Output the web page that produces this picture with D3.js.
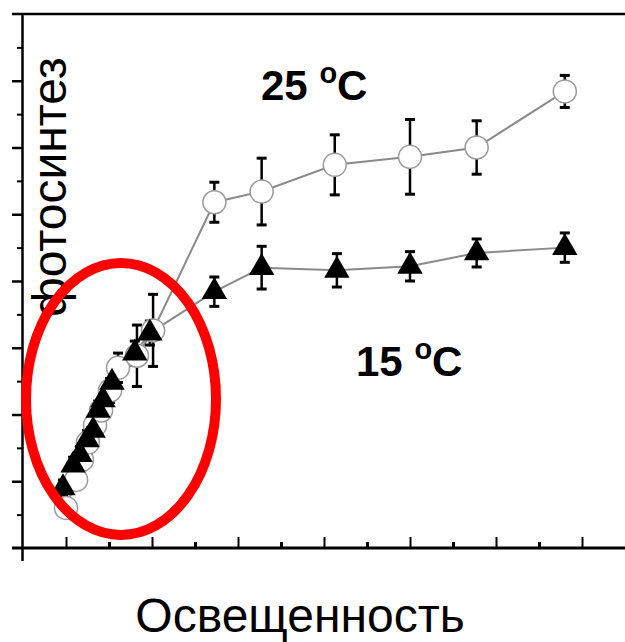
<!DOCTYPE html>
<html>
<head>
<meta charset="utf-8">
<script src="https://cdn.jsdelivr.net/npm/d3@7"></script>
<style>
  body { margin: 0; background: #fff; }
  svg { display: block; }
</style>
</head>
<body>
<svg id="chart"></svg>
<script>
// 25 oC series (open circles)
const light25 = [200, 247, 274, 302, 335, 363, 405, 442, 530, 605, 890, 1110, 1450, 1800, 2110, 2520]
const photo25 = [3.0, 5.1, 6.6, 7.9, 9.2, 10.3, 11.8, 13.5, 14.4, 16.3, 25.9, 26.7, 28.7, 29.3, 30.0, 34.2]
const err25 = [0.6, 0.7, 0.7, 0.8, 0.8, 0.8, 0.9, 1.1, 2.3, 2.7, 1.5, 2.5, 2.25, 2.8, 2.0, 1.2]

// 15 oC series (filled triangles)
const light15 = [186, 233, 265, 298, 326, 349, 372, 414, 520, 590, 890, 1110, 1460, 1800, 2110, 2520]
const photo15 = [4.5, 6.2, 7.0, 8.1, 8.8, 10.3, 11.1, 12.4, 14.6, 16.1, 19.2, 21.0, 20.8, 21.1, 22.1, 22.5]
const err15 = [0.6, 0.6, 0.6, 0.7, 0.7, 0.7, 0.8, 0.8, 0.9, 0.9, 1.1, 1.6, 1.25, 1.1, 1.05, 1.1]

const xMajorTicks = [200, 600, 1000, 1400, 1800, 2200, 2600]
const xMinorTicks = [400, 800, 1200, 1600, 2000, 2400]
const yMajorTicks = [5, 10, 15, 20, 25, 30, 35]
const yMinorTicks = [2.5, 7.5, 12.5, 17.5, 22.5, 27.5, 32.5, 37.5]

const SVG_WIDTH = 625
const SVG_HEIGHT = 642
const LEFT = 23
const TOP = 14
const BOTTOM = 548

const svg = d3.select('#chart')
  .attr('width', SVG_WIDTH)
  .attr('height', SVG_HEIGHT)

const xScale = d3.scaleLinear().domain([0, 2800]).range([LEFT, SVG_WIDTH])
const yScale = d3.scaleLinear().domain([0, 40]).range([BOTTOM, TOP])

function drawFrame() {
  // top line, left axis, bottom axis
  svg.append('line')
    .attr('x1', 12).attr('x2', SVG_WIDTH)
    .attr('y1', yScale(40)).attr('y2', yScale(40))
    .attr('stroke', '#000').attr('stroke-width', 2.5)

  svg.append('line')
    .attr('x1', LEFT - 0.5).attr('x2', LEFT - 0.5)
    .attr('y1', yScale(40) - 1).attr('y2', 561)
    .attr('stroke', '#000').attr('stroke-width', 2.5)

  svg.append('line')
    .attr('x1', 12).attr('x2', SVG_WIDTH)
    .attr('y1', BOTTOM).attr('y2', BOTTOM)
    .attr('stroke', '#000').attr('stroke-width', 3)
}

function drawAxes() {
  const addAxis = (axis, transform, width) => {
    const g = svg.append('g')
      .attr('transform', transform)
      .call(axis)
    g.select('.domain').remove()
    g.selectAll('.tick line').attr('stroke', '#000').attr('stroke-width', width)
  }

  addAxis(d3.axisTop(xScale).tickValues(xMajorTicks).tickSize(11).tickFormat(''),
    `translate(0, ${BOTTOM})`, 2)
  addAxis(d3.axisTop(xScale).tickValues(xMinorTicks).tickSize(6).tickFormat(''),
    `translate(0, ${BOTTOM})`, 3)
  addAxis(d3.axisLeft(yScale).tickValues(yMajorTicks).tickSize(11).tickFormat(''),
    `translate(${LEFT}, 0)`, 2.5)
  addAxis(d3.axisLeft(yScale).tickValues(yMinorTicks).tickSize(6).tickFormat(''),
    `translate(${LEFT}, 0)`, 2)
}

function drawSeries(xs, ys, errs) {
  const pts = xs.map((x, i) => ({x, y: ys[i], e: errs[i]}))

  const line = d3.line().x(d => xScale(d.x)).y(d => yScale(d.y))
  svg.append('path')
    .datum(pts)
    .attr('d', line)
    .attr('fill', 'none')
    .attr('stroke', '#8a8a8a')
    .attr('stroke-width', 2)

  const bars = svg.append('g').selectAll('g')
    .data(pts)
    .enter()
    .append('g')
    .attr('stroke', '#000')

  bars.append('line')
    .attr('x1', d => xScale(d.x)).attr('x2', d => xScale(d.x))
    .attr('y1', d => yScale(d.y - d.e)).attr('y2', d => yScale(d.y + d.e))
    .attr('stroke-width', 2.5)
  bars.append('line')
    .attr('x1', d => xScale(d.x) - 5).attr('x2', d => xScale(d.x) + 5)
    .attr('y1', d => yScale(d.y + d.e)).attr('y2', d => yScale(d.y + d.e))
    .attr('stroke-width', 3)
  bars.append('line')
    .attr('x1', d => xScale(d.x) - 5).attr('x2', d => xScale(d.x) + 5)
    .attr('y1', d => yScale(d.y - d.e)).attr('y2', d => yScale(d.y - d.e))
    .attr('stroke-width', 3)

  return pts
}

function drawMarkers() {
  const pts25 = light25.map((x, i) => ({x, y: photo25[i]}))
  const pts15 = light15.map((x, i) => ({x, y: photo15[i]}))

  svg.append('g').selectAll('circle')
    .data(pts25)
    .enter()
    .append('circle')
    .attr('cx', d => xScale(d.x))
    .attr('cy', d => yScale(d.y))
    .attr('r', 11.5)
    .attr('fill', '#fff')
    .attr('stroke', '#9a9a9a')
    .attr('stroke-width', 1.5)

  svg.append('g').selectAll('path')
    .data(pts15)
    .enter()
    .append('path')
    .attr('d', d3.symbol().type(d3.symbolTriangle).size(280))
    .attr('transform', d => `translate(${xScale(d.x)}, ${yScale(d.y)})`)
    .attr('fill', '#000')
}

function drawLabels() {
  const label = (x, y, num) => {
    const t = svg.append('text')
      .attr('x', x).attr('y', y)
      .attr('font-family', 'Liberation Sans, Arial, sans-serif')
      .attr('font-weight', 'bold')
      .attr('font-size', 42)
      .attr('fill', '#000')
    t.append('tspan').text(num + ' ')
    t.append('tspan').attr('dy', -17).attr('font-size', 29).text('o')
    t.append('tspan').attr('dy', 17).text('C')
  }
  label(261, 100, '25')
  label(356, 376, '15')

  svg.append('text')
    .attr('transform', 'translate(66, 187) rotate(-90)')
    .attr('text-anchor', 'middle')
    .attr('font-family', 'Liberation Sans, Arial, sans-serif')
    .attr('font-size', 48)
    .attr('fill', '#000')
    .text('фотосинтез')

  svg.append('text')
    .attr('x', 300).attr('y', 632)
    .attr('text-anchor', 'middle')
    .attr('font-family', 'Liberation Sans, Arial, sans-serif')
    .attr('font-size', 48)
    .attr('fill', '#000')
    .text('Освещенность')
}

function drawHighlight() {
  svg.append('ellipse')
    .attr('cx', 121).attr('cy', 399)
    .attr('rx', 95).attr('ry', 136)
    .attr('fill', 'none')
    .attr('stroke', '#ff0000')
    .attr('stroke-width', 10)
}

drawFrame()
drawAxes()
drawSeries(light25, photo25, err25)
drawSeries(light15, photo15, err15)
drawMarkers()
drawLabels()
drawHighlight()
</script>
</body>
</html>
